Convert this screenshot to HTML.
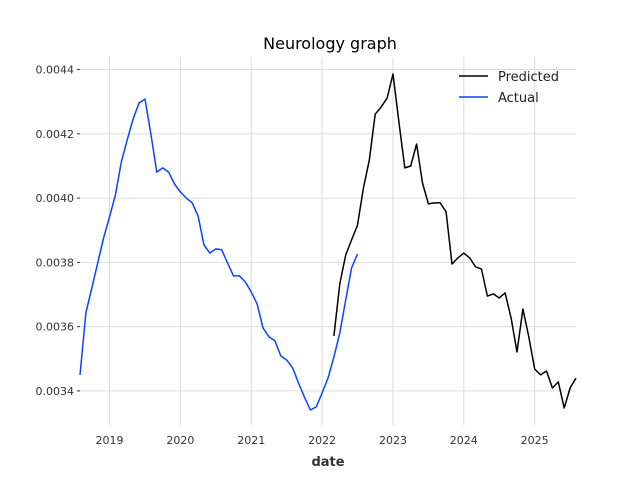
<!DOCTYPE html>
<html><head><meta charset="utf-8"><style>
body{margin:0;background:#fff;}
svg text{font-family:"DejaVu Sans","Liberation Sans",sans-serif;}
</style></head><body>
<svg id="chart" width="640" height="480">
<text x="330" y="49" text-anchor="middle" font-size="16" fill="#000">Neurology graph</text>
<g id="grid"></g>
<g id="axes"></g>
<g id="series"></g>
<text x="328" y="466" text-anchor="middle" font-size="13" font-weight="bold" fill="#333">date</text>
<g>
<g><line x1="459" y1="76" x2="488" y2="76" stroke="#000" stroke-width="1.5"/><text x="498" y="81" font-size="13" fill="#222">Predicted</text></g>
<g><line x1="459" y1="97" x2="488" y2="97" stroke="#0a44ff" stroke-width="1.5"/><text x="498" y="102" font-size="13" fill="#222">Actual</text></g>
</g>
</svg>
<script>
const actualStart = 2018.5833;
const actualValues = [0.003450,0.003643,0.003720,0.003798,0.003876,0.003941,0.004010,0.004112,0.004181,0.004246,0.004296,0.004308,0.004199,0.004081,0.004094,0.004081,0.004044,0.004019,0.004000,0.003985,0.003944,0.003854,0.003829,0.003842,0.003839,0.003798,0.003758,0.003758,0.003739,0.003708,0.003671,0.003596,0.003568,0.003556,0.003509,0.003496,0.003472,0.003425,0.003381,0.003341,0.003350,0.003394,0.003440,0.003506,0.003580,0.003683,0.003783,0.003826];
const predStart = 2022.1667;
const predValues = [0.003571,0.003733,0.003823,0.003870,0.003916,0.004031,0.004118,0.004261,0.004283,0.004311,0.004386,0.004237,0.004094,0.004100,0.004168,0.004047,0.003982,0.003985,0.003985,0.003957,0.003795,0.003814,0.003829,0.003814,0.003786,0.003779,0.003695,0.003702,0.003689,0.003705,0.003627,0.003521,0.003655,0.003568,0.003468,0.003450,0.003462,0.003409,0.003428,0.003347,0.003409,0.003440];
const xTicks = [2019,2020,2021,2022,2023,2024,2025];
const yTicks = [0.0034,0.0036,0.0038,0.0040,0.0042,0.0044];

const X0=80,X1=576,Y0=425,Y1=57;
const xMin=2018.5833,xMax=2025.5833,yMin=0.003294,yMax=0.004439;
const xs=v=>X0+(v-xMin)/(xMax-xMin)*(X1-X0);
const ys=v=>Y0-(v-yMin)/(yMax-yMin)*(Y0-Y1);
const NS='http://www.w3.org/2000/svg';
function mk(tag,attrs,parent){const e=document.createElementNS(NS,tag);for(const k in attrs)e.setAttribute(k,attrs[k]);parent.appendChild(e);return e;}
const grid=document.getElementById('grid'),axes=document.getElementById('axes'),series=document.getElementById('series');
xTicks.forEach(t=>{
  const x=xs(t);
  const l=mk('line',{x1:x,x2:x,y1:Y1,y2:Y0,stroke:'#dcdcdc','stroke-width':1},grid);
  
  
  const tx=mk('text',{x:x,y:Y0+19,'text-anchor':'middle','font-size':11,fill:'#333'},axes);
  tx.textContent=t;
  
  
});
yTicks.forEach(t=>{
  const y=ys(t);
  const l=mk('line',{x1:X0,x2:X1,y1:y,y2:y,stroke:'#dcdcdc','stroke-width':1},grid);
  
  
  const tk=mk('line',{x1:X0-3,x2:X0,y1:y,y2:y,stroke:'#333','stroke-width':1},axes);
  
  
  const tx=mk('text',{x:X0-6,y:y+4,'text-anchor':'end','font-size':11,fill:'#333'},axes);
  tx.textContent=t.toFixed(4);
  
  
});
function line(start,vals,color,name){
  const pts=vals.map((v,i)=>xs(start+i/12).toFixed(1)+','+ys(v).toFixed(1)).join(' ');
  const p=mk('polyline',{points:pts,fill:'none',stroke:color,'stroke-width':1.5,'stroke-linejoin':'round'},series);
  
  
}
line(predStart,predValues,'#000','predicted-line');
line(actualStart,actualValues,'#0a44ff','actual-line');
</script>
</body></html>
